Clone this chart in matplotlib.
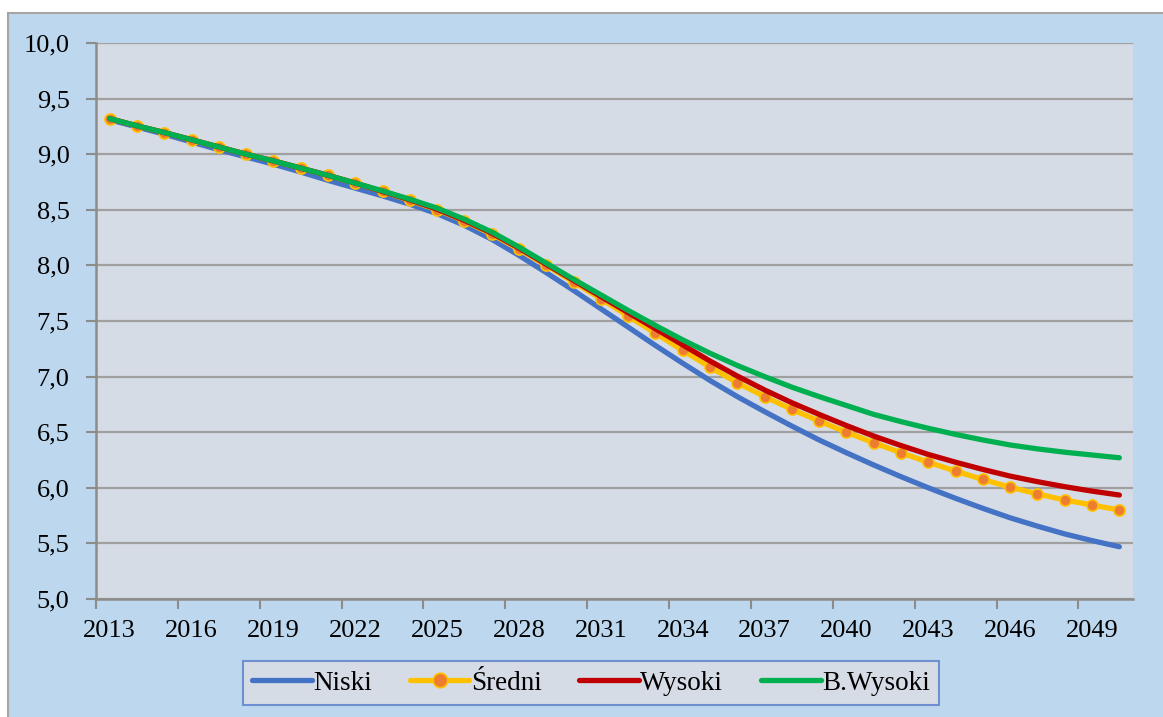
import matplotlib
matplotlib.use("Agg")
import matplotlib.pyplot as plt
from matplotlib.patches import Rectangle
import numpy as np

years = list(range(2013, 2051))
tick_labels = [str(y) for y in range(2013, 2051, 3)]

niski = [9.31, 9.245, 9.18, 9.11, 9.04, 8.975, 8.91, 8.84, 8.765, 8.695,
         8.625, 8.55, 8.465, 8.36, 8.235, 8.09, 7.935, 7.775, 7.61, 7.445,
         7.28, 7.12, 6.965, 6.82, 6.685, 6.555, 6.43, 6.315, 6.205, 6.10,
         6.00, 5.905, 5.815, 5.73, 5.655, 5.585, 5.525, 5.47]
sredni = [9.32, 9.255, 9.195, 9.13, 9.065, 9.00, 8.94, 8.875, 8.81, 8.74,
          8.665, 8.585, 8.50, 8.40, 8.28, 8.145, 8.00, 7.85, 7.70, 7.545,
          7.39, 7.235, 7.085, 6.945, 6.82, 6.705, 6.60, 6.50, 6.405, 6.315,
          6.23, 6.15, 6.075, 6.005, 5.945, 5.89, 5.845, 5.80]
wysoki = [9.32, 9.255, 9.195, 9.13, 9.065, 9.00, 8.94, 8.875, 8.81, 8.74,
          8.665, 8.59, 8.505, 8.405, 8.29, 8.155, 8.01, 7.865, 7.72, 7.575,
          7.43, 7.285, 7.14, 7.005, 6.88, 6.765, 6.66, 6.56, 6.465, 6.38,
          6.30, 6.23, 6.165, 6.105, 6.055, 6.01, 5.97, 5.935]
bwysoki = [9.32, 9.255, 9.195, 9.13, 9.065, 9.00, 8.94, 8.875, 8.81, 8.74,
           8.67, 8.595, 8.515, 8.415, 8.30, 8.165, 8.02, 7.875, 7.735, 7.595,
           7.46, 7.33, 7.21, 7.10, 7.00, 6.905, 6.82, 6.74, 6.66, 6.595,
           6.535, 6.48, 6.43, 6.385, 6.35, 6.32, 6.295, 6.27]

series_names = ["Niski", "Średni", "Wysoki", "B.Wysoki"]

plt.rcParams['font.family'] = ['Liberation Serif', 'DejaVu Serif']

W, H = 1163, 717
fig = plt.figure(figsize=(W / 100, H / 100), dpi=100, facecolor='white')

# outer chart-area frame
frame_rect = Rectangle((8 / W, -0.05), 1.2, 1 - 13 / H + 0.05,
                       transform=fig.transFigure, facecolor='#BDD7EE',
                       edgecolor='#A6A6A6', linewidth=1.5, zorder=-5)
fig.patches.append(frame_rect)

left, right, top, bottom = 96, 1133, 43, 599
ax = fig.add_axes([left / W, 1 - bottom / H, (right - left) / W, (bottom - top) / H])
ax.set_zorder(2)
ax.set_facecolor('#D6DCE5')

x = np.arange(len(years)) + 0.5

ax.plot(x, niski, color='#4472C4', lw=3.8, solid_capstyle='round', solid_joinstyle='round',
        zorder=3, label=series_names[0])
ax.plot(x, sredni, color='#FFC000', lw=3.8, marker='o', markersize=8,
        markerfacecolor='#ED7D31', markeredgecolor='#FFC000', markeredgewidth=1.2,
        solid_capstyle='round', solid_joinstyle='round', zorder=4, label=series_names[1])
ax.plot(x, wysoki, color='#C00000', lw=3.8, solid_capstyle='round', solid_joinstyle='round',
        zorder=5, label=series_names[2])
ax.plot(x, bwysoki, color='#00B050', lw=3.8, solid_capstyle='round', solid_joinstyle='round',
        zorder=6, label=series_names[3])

ax.set_xlim(0, len(years))
ax.set_ylim(5.0, 10.0)

yt = np.arange(5.0, 10.01, 0.5)
ax.set_yticks(yt)
ax.set_yticklabels([f"{v:.1f}".replace('.', ',') for v in yt], fontsize=19)
ax.yaxis.grid(True, color='#A0A0A0', linewidth=1.6, zorder=1)
ax.set_axisbelow(True)

ax.set_xticks(np.arange(0, len(years), 3))
ax.set_xticklabels([])
ax.set_xticks(np.arange(0, len(years), 3) + 0.5, minor=True)
ax.set_xticklabels(tick_labels, minor=True, fontsize=19)
ax.tick_params(axis='x', which='major', length=7, width=1.5, color='#8C8C8C', direction='out')
ax.tick_params(axis='x', which='minor', length=0, pad=15)
ax.tick_params(axis='y', length=7, width=1.5, color='#8C8C8C', pad=12)

for s in ['top', 'right']:
    ax.spines[s].set_visible(False)
for s in ['left', 'bottom']:
    ax.spines[s].set_color('#8C8C8C')
    ax.spines[s].set_linewidth(1.8)

leg = fig.legend(loc='center', bbox_to_anchor=(591 / W, 1 - 683 / H), ncol=4,
                 fontsize=19.5, frameon=True, fancybox=False, handlelength=2.2,
                 handletextpad=0.05, columnspacing=1.4, borderpad=0.35,
                 borderaxespad=0, markerscale=1.3)
leg.set_zorder(3)
frame = leg.get_frame()
frame.set_facecolor('#D6DCE5')
frame.set_edgecolor('#6F8FD0')
frame.set_linewidth(1.5)
frame.set_alpha(1)

fig.savefig('out.png', dpi=100, facecolor=fig.get_facecolor())
